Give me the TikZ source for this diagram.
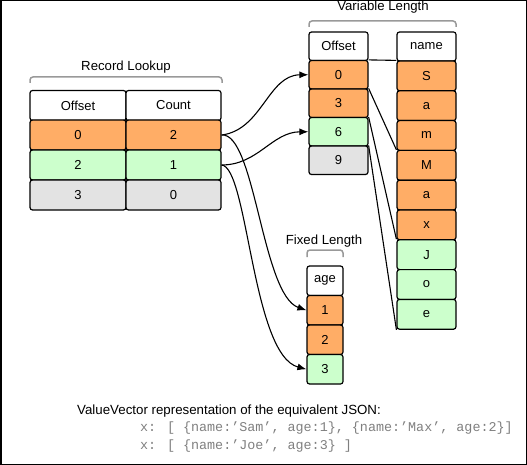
\documentclass[tikz,border=0pt]{standalone}
\usepackage{fontspec}
\setmainfont{Liberation Sans}
\newfontfamily\monof{Liberation Mono}
\usetikzlibrary{arrows.meta}
\definecolor{orng}{HTML}{FFAD66}
\definecolor{grn}{HTML}{CCFFCC}
\definecolor{gry}{HTML}{E3E3E3}
\definecolor{brkgray}{HTML}{999999}
\definecolor{codegray}{HTML}{7F7F7F}
\begin{document}
\begin{tikzpicture}[x=1pt,y=-1pt,
  cell/.style={draw=black, line width=1.2pt, rounded corners=2.5pt, inner sep=0pt, font=\fontsize{13}{15}\selectfont},
  hd/.style={cell, fill=white},
  og/.style={cell, fill=orng},
  gn/.style={cell, fill=grn},
  gy/.style={cell, fill=gry},
  rlw/.style={minimum width=96pt, minimum height=30pt},
  rlw2/.style={minimum width=95pt, minimum height=30pt},
  vw/.style={minimum width=59pt, minimum height=28.5pt},
  nw/.style={minimum width=59pt, minimum height=29.8pt},
  aw/.style={minimum width=36pt, minimum height=29.5pt},
  brk/.style={draw=brkgray, line width=1.5pt, rounded corners=3pt},
  ttl/.style={font=\fontsize{13.2}{15}\selectfont, inner sep=0pt},
  conn/.style={draw=black, line width=1.1pt},
  arr/.style={conn, -{Latex[length=9pt,width=7pt]}}
]
\useasboundingbox (0,0) rectangle (527,465);
\draw[line width=1.5pt] (0.75,0.75) rectangle (526.25,464.25);

% Record Lookup
\node[ttl] (tRL) at (126,67) {Record Lookup};
\draw[brk] (30,83) -- (30,77) -- (222,77) -- (222,83);
\node[hd,rlw] (rh0) at (78,105.5) {Offset};
\node[hd,rlw2] (rh1) at (173.5,105.5) {Count};
\node[og,rlw] (ro0) at (78,135) {0};
\node[og,rlw2] (rc0) at (173.5,135) {2};
\node[gn,rlw] (ro1) at (78,165) {2};
\node[gn,rlw2] (rc1) at (173.5,165) {1};
\node[gy,rlw] (ro2) at (78,195) {3};
\node[gy,rlw2] (rc2) at (173.5,195) {0};

% Variable Length
\node[ttl] (tVL) at (383,7) {Variable Length};
\draw[brk] (309,27) -- (309,21) -- (456,21) -- (456,27);
\node[hd,vw] (vh) at (338.5,46.25) {Offset};
\node[og,vw] (vo0) at (338.5,74.75) {0};
\node[og,vw] (vo1) at (338.5,103.25) {3};
\node[gn,vw] (vo2) at (338.5,131.75) {6};
\node[gy,vw] (vo3) at (338.5,160.25) {9};

\node[hd,nw,minimum height=29pt] (nh) at (426.5,46.5) {name};
\node[og,nw] (n1) at (426.5,75.9) {S};
\node[og,nw] (n2) at (426.5,105.7) {a};
\node[og,nw] (n3) at (426.5,135.5) {m};
\node[og,nw] (n4) at (426.5,165.3) {M};
\node[og,nw] (n5) at (426.5,195.1) {a};
\node[og,nw] (n6) at (426.5,224.9) {x};
\node[gn,nw] (n7) at (426.5,254.7) {J};
\node[gn,nw] (n8) at (426.5,284.5) {o};
\node[gn,nw] (n9) at (426.5,314.3) {e};

% Fixed Length
\node[ttl] (tFL) at (324,241) {Fixed Length};
\draw[brk] (307,257) -- (307,250) -- (343,250) -- (343,257);
\node[hd,aw] (ah) at (325,280.75) {age};
\node[og,aw] (a1) at (325,310.25) {1};
\node[og,aw] (a2) at (325,339.75) {2};
\node[gn,aw] (a3) at (325,369.25) {3};

% connectors
\draw[arr] (rc0.east) .. controls (262,130) and (268,75) .. (vo0.west);
\draw[arr] (rc1.east) .. controls (258,165) and (272,132) .. (vo2.west);
\draw[arr] (rc0.east) .. controls (255,132) and (262,295) .. (a1.west);
\draw[arr] (rc1.east) .. controls (248,167) and (252,355) .. (a3.west);

\draw[conn] (vo0.north east) -- (n1.north west);
\draw[conn] (vo1.north east) -- (n4.north west);
\draw[conn] (vo2.north east) -- (n7.north west);
\draw[conn] (vo3.north east) -- (n9.south west);

% bottom text
\node[anchor=west, inner sep=0pt, font=\fontsize{13.3}{15}\selectfont] (cap) at (77,411) {ValueVector representation of the equivalent JSON:};
\node[anchor=west, inner sep=0pt, font=\monof\fontsize{13.4}{15}\selectfont, text=codegray] (l1) at (140,428) {x: [ \{name:’Sam’, age:1\}, \{name:’Max’, age:2\}]};
\node[anchor=west, inner sep=0pt, font=\monof\fontsize{13.4}{15}\selectfont, text=codegray] (l2) at (140,446) {x: [ \{name:’Joe’, age:3\} ]};
\end{tikzpicture}
\end{document}
